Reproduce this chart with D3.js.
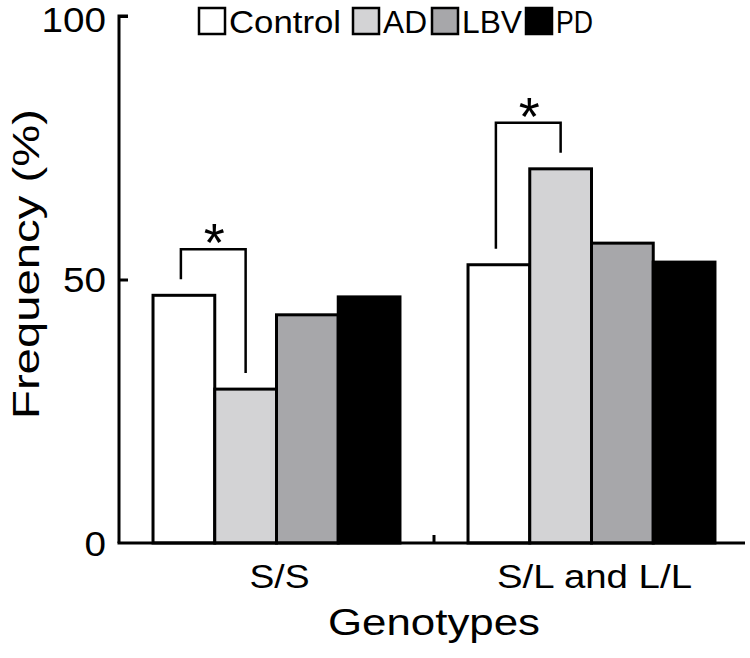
<!DOCTYPE html>
<html><head><meta charset="utf-8">
<script src="https://cdn.jsdelivr.net/npm/d3@7"></script>
<style>body{margin:0;background:#fff}svg{display:block}text{font-family:"Liberation Sans",Arial,Helvetica,sans-serif;fill:#000}</style>
</head><body>
<script>
const genotypes = ["S/S", "S/L and L/L"];
const groups = ["Control", "AD", "LBV", "PD"];
const control = [47.0, 52.8];
const ad = [29.2, 71.0];
const lbv = [43.3, 56.9];
const pd = [46.7, 53.3];
const yTicks = [0, 50, 100];
const colors = ["#ffffff", "#d3d3d5", "#a7a7aa", "#000000"];
const significance = [{genotype: "S/S", a: "Control", b: "AD"}, {genotype: "S/L and L/L", a: "Control", b: "AD"}];

const seriesValues = [control, ad, lbv, pd];
const W = 750, H = 658;
const svg = d3.select("body").append("svg").attr("width", W).attr("height", H);

const y = d3.scaleLinear().domain([0, 100]).range([543, 16]);
const x0 = d3.scaleBand().domain(genotypes).range([119, 749]).paddingInner(0.216).paddingOuter(0.108);
const x1 = d3.scaleBand().domain(groups).range([0, x0.bandwidth()]);
const color = d3.scaleOrdinal().domain(groups).range(colors);

// bars
genotypes.forEach((g, gi) => {
  groups.forEach((s, si) => {
    const v = seriesValues[si][gi];
    svg.append("rect")
      .attr("x", x0(g) + x1(s))
      .attr("y", y(v))
      .attr("width", x1.bandwidth())
      .attr("height", y(0) - y(v))
      .attr("fill", color(s))
      .attr("stroke", "#000")
      .attr("stroke-width", 3);
  });
});

// y axis
const yAxis = d3.axisRight(y).tickValues(yTicks).tickSize(9).tickFormat("");
const ya = svg.append("g").attr("transform", "translate(119,0)").call(yAxis);
ya.select(".domain").attr("stroke-width", 3).attr("d", "M9,16H0V543");
ya.selectAll(".tick line").attr("stroke-width", 3);
ya.selectAll(".tick").filter(d => d === 0).select("line").remove();
svg.selectAll(".ytl").data(yTicks).enter().append("text")
  .attr("class", "ytl")
  .attr("x", 106).attr("y", d => Math.max(y(d), 19))
  .attr("dy", "0.36em")
  .attr("text-anchor", "end")
  .style("font-size", "35px")
  .attr("textLength", d => String(d).length * 21.5)
  .attr("lengthAdjust", "spacingAndGlyphs")
  .text(d => d);

// x axis
const xa = svg.append("g").attr("transform", "translate(0,543)");
xa.append("line").attr("x1", 117.5).attr("x2", 745).attr("y1", 0).attr("y2", 0).attr("stroke", "#000").attr("stroke-width", 3);
const midX = (x0(genotypes[0]) + x0.bandwidth() + x0(genotypes[1])) / 2;
xa.append("line").attr("x1", midX).attr("x2", midX).attr("y1", 0).attr("y2", -8).attr("stroke", "#000").attr("stroke-width", 3);
const catLen = {"S/S": 60, "S/L and L/L": 195};
genotypes.forEach(g => {
  svg.append("text")
    .attr("x", x0(g) + x0.bandwidth() / 2 + 3)
    .attr("y", 588)
    .attr("text-anchor", "middle")
    .style("font-size", "34px")
    .attr("textLength", catLen[g])
    .attr("lengthAdjust", "spacingAndGlyphs")
    .text(g);
});

// axis titles
svg.append("text")
  .attr("x", 434).attr("y", 635)
  .attr("text-anchor", "middle")
  .style("font-size", "36px")
  .attr("textLength", 212)
  .attr("lengthAdjust", "spacingAndGlyphs")
  .text("Genotypes");
svg.append("text")
  .attr("transform", "translate(39,264) rotate(-90)")
  .attr("text-anchor", "middle")
  .style("font-size", "37px")
  .attr("textLength", 310)
  .attr("lengthAdjust", "spacingAndGlyphs")
  .text("Frequency (%)");

// significance brackets
significance.forEach(sg => {
  const gi = genotypes.indexOf(sg.genotype);
  const ai = groups.indexOf(sg.a), bi = groups.indexOf(sg.b);
  const va = seriesValues[ai][gi], vb = seriesValues[bi][gi];
  const xa_ = x0(sg.genotype) + x1(sg.a) + x1.bandwidth() / 2 - 3;
  const xb_ = x0(sg.genotype) + x1(sg.b) + x1.bandwidth() / 2;
  const top = Math.min(y(va), y(vb)) - 46;
  svg.append("path")
    .attr("d", `M${xa_},${y(va) - 16}V${top}H${xb_}V${y(vb) - 16}`)
    .attr("fill", "none").attr("stroke", "#000").attr("stroke-width", 2.5);
  svg.append("text")
    .attr("x", (xa_ + xb_) / 2 + 1).attr("y", top + 12)
    .attr("text-anchor", "middle")
    .style("font-size", "54px")
    .text("*");
});

// legend
const legX = [199, 353, 432, 526];
const legLen = [112, 44, 60, 37];
groups.forEach((s, i) => {
  svg.append("rect")
    .attr("x", legX[i]).attr("y", 8).attr("width", 26).attr("height", 26)
    .attr("fill", color(s)).attr("stroke", "#000").attr("stroke-width", 2.5);
  svg.append("text")
    .attr("x", legX[i] + 30).attr("y", 33)
    .style("font-size", "32px")
    .attr("textLength", legLen[i])
    .attr("lengthAdjust", "spacingAndGlyphs")
    .text(s);
});
</script>
</body></html>
